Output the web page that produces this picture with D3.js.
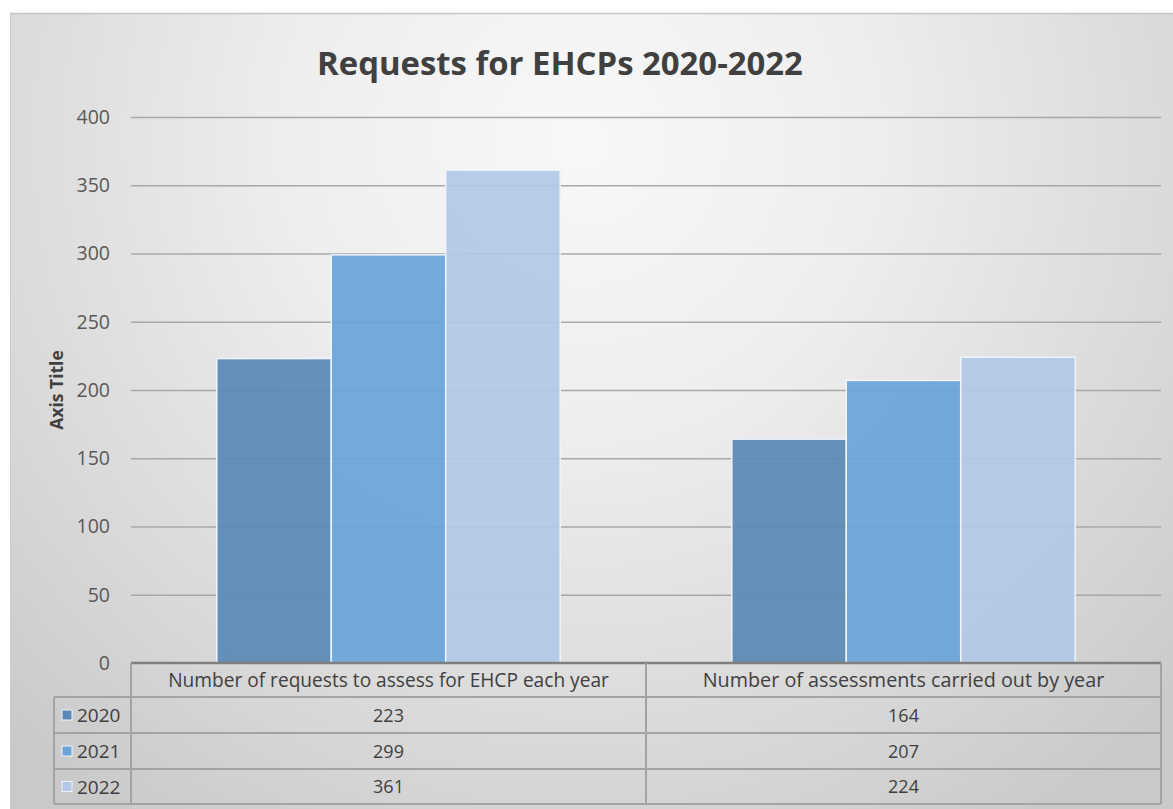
<!DOCTYPE html>
<html>
<head>
<meta charset="utf-8">
<script src="https://cdn.jsdelivr.net/npm/d3@7"></script>
<style>
  html, body { margin: 0; padding: 0; background: #ffffff; }
  svg { display: block; }
</style>
</head>
<body>
<svg id="chart" width="1173" height="809"></svg>
<script>
const title = "Requests for EHCPs 2020-2022";
const categories = ["Number of requests to assess for EHCP each year", "Number of assessments carried out by year"];
const seriesNames = ["2020", "2021", "2022"];
const values2020 = [223, 164];
const values2021 = [299, 207];
const values2022 = [361, 224];
const yTicks = [0, 50, 100, 150, 200, 250, 300, 350, 400];
const yAxisTitle = "Axis Title";

const seriesValues = [values2020, values2021, values2022];
const colors = ["#5a89b6", "#6aa4d9", "#b2c8e6"];

const W = 1173, H = 809;
const frame = {x: 10, y: 13, w: 1163, h: 796};
const plot = {left: 131, right: 1161, top: 117, bottom: 663};
const rowH = [34, 36, 36, 35];
const legendLeft = 54;
const FONT = "'Open Sans', 'Noto Sans', sans-serif";

const svg = d3.select("#chart");
const defs = svg.append("defs");
const grad = defs.append("radialGradient").attr("id", "bg")
  .attr("gradientUnits", "userSpaceOnUse")
  .attr("cx", 580).attr("cy", 140).attr("r", 830)
  .attr("fx", 580).attr("fy", 140);
grad.append("stop").attr("offset", "0%").attr("stop-color", "#f8f8f8");
grad.append("stop").attr("offset", "35%").attr("stop-color", "#eeeeee");
grad.append("stop").attr("offset", "75%").attr("stop-color", "#d8d8d8");
grad.append("stop").attr("offset", "100%").attr("stop-color", "#c9c9c9");

svg.append("rect").attr("x", frame.x).attr("y", frame.y)
  .attr("width", frame.w).attr("height", frame.h).attr("fill", "url(#bg)");
svg.append("line").attr("x1", frame.x).attr("x2", W).attr("y1", frame.y + 0.5).attr("y2", frame.y + 0.5)
  .attr("stroke", "#c4c4c4").attr("stroke-width", 1.5);
svg.append("line").attr("x1", frame.x + 0.5).attr("x2", frame.x + 0.5).attr("y1", frame.y).attr("y2", H)
  .attr("stroke", "#cccccc").attr("stroke-width", 1);

// fit text to a target width
function fit(sel, target) {
  const fs = +sel.attr("font-size");
  const w = sel.node().getComputedTextLength();
  sel.attr("font-size", fs * target / w);
}

// Title
const t = svg.append("text").attr("x", 560).attr("y", 75)
  .attr("text-anchor", "middle")
  .attr("font-family", FONT)
  .attr("font-weight", "bold").attr("font-size", 36)
  .attr("fill", "#404040").text(title);
fit(t, 486);

// Scales
const y = d3.scaleLinear().domain([0, 400]).range([plot.bottom, plot.top]);
const x0 = d3.scaleBand().domain(categories).range([plot.left, plot.right]).padding(0);
const x1 = d3.scaleBand().domain(seriesNames).range([0, x0.bandwidth()]).paddingInner(0).paddingOuter(0.75);

// Gridlines + tick labels
const yAxis = d3.axisLeft(y).tickValues(yTicks).tickSize(-(plot.right - plot.left)).tickPadding(21);
const gy = svg.append("g").attr("transform", `translate(${plot.left},0)`).call(yAxis);
gy.select(".domain").remove();
gy.selectAll(".tick line").attr("stroke", "#a8a8a8").attr("stroke-width", 1.5)
  .filter(d => d === 0).remove();
gy.selectAll(".tick text").attr("font-family", FONT)
  .attr("font-size", 19.5).attr("fill", "#595959");

// Axis title
svg.append("text")
  .attr("transform", `translate(63,${(plot.top + plot.bottom) / 2}) rotate(-90)`)
  .attr("text-anchor", "middle")
  .attr("font-family", FONT)
  .attr("font-weight", "bold").attr("font-size", 17.5).attr("fill", "#404040")
  .text(yAxisTitle);

// Bars
seriesNames.forEach((s, si) => {
  svg.append("g").selectAll("rect").data(categories).join("rect")
    .attr("x", c => x0(c) + x1(s))
    .attr("y", (c, ci) => y(seriesValues[si][ci]))
    .attr("width", x1.bandwidth())
    .attr("height", (c, ci) => y(0) - y(seriesValues[si][ci]))
    .attr("fill", colors[si]).attr("fill-opacity", 0.93)
    .attr("stroke", "#eef4fb").attr("stroke-width", 1.5);
});

// Data table
const rowTops = [plot.bottom];
rowH.forEach((h, i) => rowTops.push(rowTops[i] + h));
const tableBottom = rowTops[rowTops.length - 1];
const tg = svg.append("g");
const lineCol = "#a3a3a3";
rowTops.forEach((ry, i) => {
  tg.append("line")
    .attr("x1", i === 0 ? plot.left : legendLeft).attr("x2", plot.right)
    .attr("y1", ry).attr("y2", ry)
    .attr("stroke", i === 0 ? "#7f7f7f" : lineCol).attr("stroke-width", i === 0 ? 2.5 : 2);
});
tg.append("line").attr("x1", legendLeft).attr("x2", legendLeft).attr("y1", rowTops[1]).attr("y2", tableBottom)
  .attr("stroke", lineCol).attr("stroke-width", 2);
[plot.left, x0(categories[1]), plot.right].forEach(vx => {
  tg.append("line").attr("x1", vx).attr("x2", vx).attr("y1", plot.bottom).attr("y2", tableBottom)
    .attr("stroke", lineCol).attr("stroke-width", 2);
});
// header text
const headerTargets = [441, 402];
categories.forEach((c, ci) => {
  const ht = tg.append("text").attr("x", x0(c) + x0.bandwidth() / 2).attr("y", rowTops[0] + rowH[0] / 2 + 6.5)
    .attr("text-anchor", "middle").attr("font-family", FONT).attr("font-size", 16)
    .attr("fill", "#404040").text(c);
  fit(ht, headerTargets[ci]);
});
// rows
seriesNames.forEach((s, si) => {
  const cy = rowTops[si + 1] + rowH[si + 1] / 2;
  tg.append("rect").attr("x", 62).attr("y", cy - 5).attr("width", 10).attr("height", 10)
    .attr("fill", colors[si]).attr("stroke", "#eef4fb").attr("stroke-width", 1);
  tg.append("text").attr("x", 77).attr("y", cy + 7).attr("font-family", FONT)
    .attr("font-size", 19).attr("fill", "#404040").text(s);
  categories.forEach((c, ci) => {
    tg.append("text").attr("x", x0(c) + x0.bandwidth() / 2).attr("y", cy + 6.5)
      .attr("text-anchor", "middle").attr("font-family", FONT).attr("font-size", 18)
      .attr("fill", "#404040").text(seriesValues[si][ci]);
  });
});
</script>
</body>
</html>
